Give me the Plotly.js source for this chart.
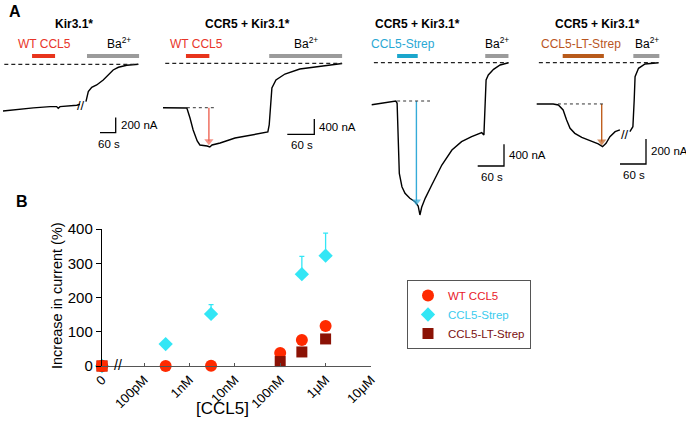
<!DOCTYPE html>
<html><head><meta charset="utf-8">
<script src="https://cdn.plot.ly/plotly-3.0.1.min.js"></script>
<style>html,body{margin:0;padding:0;background:#fff}#chart{width:686px;height:435px}</style>
</head><body><div id="chart"></div>
<script>
// ---------- Panel A: current traces (time in s, current in nA; 0 = Ba2+-blocked level) ----------
const kirTime      = [0, 65, 116, 180, 205, 211, 218, 282, 294, null, 317, 326, 339, 358, 383, 402, 421, 441, 473, 517];
const kirCurrent   = [-610, -583, -570, -553, -553, -574, -553, -535, -522, null, -488, -357, -300, -270, -205, -140, -74, -39, -13, 0];
const kirDrug      = [111, 199];
const kirBa        = [321, 520];

const wtTime       = [0, 51, 53, 60, 67, 76, 82, 98, 104, 109, 127, 160, 193, 233, 236, 240, 242, 251, 271, 304, 349, 398];
const wtCurrent    = [-1161, -1161, -1169, -1430, -1744, -2031, -2136, -2162, -2188, -2136, -2084, -1953, -1875, -1796, -1613, -959, -646, -437, -280, -149, -71, -5];
const wtDrug       = [51, 103];
const wtBa         = [236, 398];
const wtPeak       = {t: 102, from: -1161, to: -2040, dotted: [53, 116]};

const strepTime    = [0, 19, 55, 58, 61, 63, 69, 76, 87, 99, 106, 110, 114, 122, 137, 160, 183, 205, 228, 251, 256, 258, 261, 266, 278, 293, 312];
const strepCurrent = [-774, -748, -706, -748, -1425, -2039, -2286, -2407, -2500, -2562, -2641, -2807, -2665, -2500, -2254, -1886, -1609, -1456, -1364, -1290, -1333, -872, -319, -227, -122, -42, 0];
const strepDrug    = [58, 105];
const strepBa      = [259, 312];
const strepPeak    = {t: 102, from: -706, to: -2560, dotted: [58, 133]};

const ltTime       = [0, 38, 50, 61, 69, 77, 88, 104, 123, 142, 152, 160, 169, 181, 192, null, 215, 222, 225, 227, 235, 250, 281];
const ltCurrent    = [-330, -330, -338, -378, -458, -525, -565, -597, -624, -650, -672, -645, -592, -552, -538, null, -552, -512, -298, -112, -45, -10, 0];
const ltDrug       = [60, 155];
const ltBa         = [223, 283];
const ltPeak       = {t: 150, from: -330, to: -630, dotted: [49, 155]};

// ---------- Panel B: dose response ----------
const tickConcNM   = [0, 0.1, 1, 10, 100, 1000, 10000];
const tickLabels   = ['0', '100pM', '1nM', '10nM', '100nM', '1μM', '10μM'];
const wtConc       = [0, 0.3, 3, 100, 300, 1000];
const wtResp       = [0, 0, 1, 38, 76, 117];
const strepConc    = [0, 0.3, 3, 300, 1000];
const strepResp    = [0, 64, 152, 268, 322];
const strepErr     = [0, 0, 27, 52, 66];
const ltConc       = [0, 100, 300, 1000];
const ltResp       = [0, 13, 41, 79];
const ctrlConc     = [0];
const ctrlResp     = [0];

// ---------- layout helpers ----------
const W = 686, H = 435;
const px = x => x / W;
const py = y => 1 - y / H;
const FONT = 'Liberation Sans, Arial, sans-serif';
const ZERO_POS = -1.925;               // where "0" sits on the log-concentration axis
const xpos = c => c === 0 ? ZERO_POS : Math.log10(c);

const RED = '#ff2a00', CYAN = '#33e6f5', DARK = '#8b1205';
const GRAY = '#9b9b9b';

// panel calibration (pixel of t=0, px per s, pixel of I=0, px per nA, domain)
const panels = [
  {L: 0,   R: 160, px0: 3,     sx: 15.7/60, py0: 64.3, sy: 15.3/200, t: kirTime,   i: kirCurrent,   drug: kirDrug,   ba: kirBa,   drugColor: '#e8341c', peak: null,      sb: [115.7, 132.7], sbI: 200},
  {L: 160, R: 355, px0: 163,   sx: 27/60,   py0: 63.3, sy: 15.3/400, t: wtTime,    i: wtCurrent,    drug: wtDrug,    ba: wtBa,    drugColor: '#e8341c', peak: wtPeak,    arrow: '#ee6655', sb: [314.3, 134.3], sbI: 400},
  {L: 355, R: 520, px0: 371.7, sx: 26.3/60, py0: 62.7, sy: 21.7/400, t: strepTime, i: strepCurrent, drug: strepDrug, ba: strepBa, drugColor: '#1ba6cc', peak: strepPeak, arrow: '#35abd8', sb: [504, 166], sbI: 400},
  {L: 520, R: 686, px0: 536.7, sx: 26/60,   py0: 62.7, sy: 25/200,   t: ltTime,    i: ltCurrent,    drug: ltDrug,    ba: ltBa,    drugColor: '#b85a1a', peak: ltPeak,    arrow: '#c0601f', sb: [646, 164], sbI: 200}
];
const A_TOP = 0, A_BOT = 232;

const data = [];
const layout = {
  width: W, height: H, autosize: false,
  margin: {l: 0, r: 0, t: 0, b: 0, pad: 0},
  paper_bgcolor: '#fff', plot_bgcolor: 'rgba(0,0,0,0)',
  font: {family: FONT, color: '#000'},
  showlegend: true,
  shapes: [], annotations: []
};
const ann = (text, x, y, o = {}) => Object.assign({
  text, x: px(x), y: py(y), xref: 'paper', yref: 'paper',
  xanchor: 'center', yanchor: 'middle', showarrow: false,
  font: {family: FONT, size: 12, color: '#000'}
}, o);

panels.forEach((p, k) => {
  const n = k + 2, xa = 'x' + n, ya = 'y' + n;
  layout['xaxis' + n] = {domain: [px(p.L), px(p.R)], anchor: ya, visible: false, fixedrange: true,
    range: [(p.L - p.px0) / p.sx, (p.R - p.px0) / p.sx]};
  layout['yaxis' + n] = {domain: [py(A_BOT), py(A_TOP)], anchor: xa, visible: false, fixedrange: true,
    range: [(p.py0 - A_BOT) / p.sy, (p.py0 - A_TOP) / p.sy]};
  data.push({type: 'scatter', mode: 'lines', x: p.t, y: p.i, xaxis: xa, yaxis: ya,
    line: {color: '#000', width: 1.4}, connectgaps: false, showlegend: false, hoverinfo: 'skip'});
  const tEnd = p.t[p.t.length - 1];
  // baseline (Ba2+ level)
  layout.shapes.push({type: 'line', xref: xa, yref: ya, x0: p.t[0] + 5, x1: tEnd, y0: 0, y1: 0,
    line: {color: '#222', width: 1.2, dash: '4px,3px'}});
  // application bars
  layout.shapes.push({type: 'line', xref: xa, yref: 'paper', x0: p.drug[0], x1: p.drug[1], y0: py(56), y1: py(56),
    line: {color: p.drugColor, width: 4}});
  layout.shapes.push({type: 'line', xref: xa, yref: 'paper', x0: p.ba[0], x1: p.ba[1], y0: py(56), y1: py(56),
    line: {color: GRAY, width: 4}});
  // peak arrow + dotted pre-level
  if (p.peak) {
    layout.shapes.push({type: 'line', xref: xa, yref: ya, x0: p.peak.dotted[0], x1: p.peak.dotted[1],
      y0: p.peak.from, y1: p.peak.from, line: {color: '#333', width: 1, dash: 'dot'}});
    data.push({type: 'scatter', mode: 'lines+markers', xaxis: xa, yaxis: ya, showlegend: false, hoverinfo: 'skip',
      x: [p.peak.t, p.peak.t], y: [p.peak.from, p.peak.to], cliponaxis: false,
      line: {color: p.arrow, width: 1.4},
      marker: {symbol: ['line-ew', 'triangle-down'], size: [1, 8], color: p.arrow, line: {width: 0}}});
  }
  // scale bar (60 s, sbI nA)
  const tA = (p.sb[0] - p.px0) / p.sx, iA = (p.py0 - p.sb[1]) / p.sy;
  layout.shapes.push({type: 'path', xref: xa, yref: ya,
    path: `M ${tA - 60} ${iA} L ${tA} ${iA} L ${tA} ${iA + p.sbI}`, line: {color: '#000', width: 1.3}});
  const barTop = p.sb[1] - p.sbI * p.sy;
  layout.annotations.push(ann(p.sbI + ' nA', p.sb[0] + 3, (barTop + p.sb[1]) / 2, {xanchor: 'left', font: {family: FONT, size: 11.5}}));
  layout.annotations.push(ann('60 s', p.sb[0] - 60 * p.sx / 2 + 1, p.sb[1] + 11, {font: {family: FONT, size: 11.5}}));
});

// Panel A labels
const bold = {family: FONT, size: 12, color: '#000', weight: 'bold'};
layout.annotations.push(
  ann('<b>A</b>', 15, 11, {font: {family: FONT, size: 16}}),
  ann('<b>Kir3.1*</b>', 74, 24, {font: bold}),
  ann('<b>CCR5 + Kir3.1*</b>', 247, 24, {font: bold}),
  ann('<b>CCR5 + Kir3.1*</b>', 417, 24, {font: bold}),
  ann('<b>CCR5 + Kir3.1*</b>', 597, 24, {font: bold}),
  ann('WT CCL5', 44, 44, {font: {family: FONT, size: 12, color: '#e8352a'}}),
  ann('WT CCL5', 196, 44, {font: {family: FONT, size: 12, color: '#e8352a'}}),
  ann('CCL5-Strep', 403, 44, {font: {family: FONT, size: 12, color: '#2aa8d4'}}),
  ann('CCL5-LT-Strep', 581, 44, {font: {family: FONT, size: 12, color: '#b9561f'}}),
  ann('Ba<sup>2+</sup>', 119, 43),
  ann('Ba<sup>2+</sup>', 306, 43),
  ann('Ba<sup>2+</sup>', 497, 43),
  ann('Ba<sup>2+</sup>', 647, 43),
  ann('//', 81, 106, {font: {family: FONT, size: 13}}),
  ann('//', 625, 134, {font: {family: FONT, size: 13}})
);

// ---------- Panel B ----------
const sp = s => `<span style="color:${s[1]}">${s[0]}</span>`;
data.push(
  {type: 'scatter', mode: 'markers', name: sp(['CCL5-Strep', '#3ccbee']), legendrank: 2,
   x: strepConc.map(xpos), y: strepResp, cliponaxis: false,
   marker: {symbol: 'diamond', size: 11, color: CYAN},
   error_y: {type: 'data', symmetric: false, array: strepErr, arrayminus: strepErr.map(() => 0), color: CYAN, thickness: 1.3, width: 2.5}},
  {type: 'scatter', mode: 'markers', name: sp(['WT CCL5', '#e8202a']), legendrank: 1,
   x: wtConc.map(xpos), y: wtResp, cliponaxis: false,
   marker: {symbol: 'circle', size: 12, color: RED}},
  {type: 'scatter', mode: 'markers', name: sp(['CCL5-LT-Strep', '#7a1010']), legendrank: 3,
   x: ltConc.map(xpos), y: ltResp, cliponaxis: false,
   marker: {symbol: 'square', size: 11, color: DARK}},
  {type: 'scatter', mode: 'markers', showlegend: false,
   x: ctrlConc.map(xpos), y: ctrlResp, cliponaxis: false,
   marker: {symbol: 'square', size: 11, color: RED}}
);
layout.xaxis = {domain: [px(102), px(371)], anchor: 'y', range: [ZERO_POS, 4.0], fixedrange: true,
  showgrid: false, zeroline: false, showline: true, linecolor: '#555', linewidth: 1.2,
  ticks: 'inside', ticklen: 3, tickcolor: '#555',
  tickvals: tickConcNM.map(xpos), ticktext: tickLabels, tickangle: -45,
  tickfont: {family: FONT, size: 13, color: '#000'}};
layout.yaxis = {domain: [py(366), py(229)], anchor: 'x', range: [0, 400], fixedrange: true,
  showgrid: false, zeroline: false, showline: true, linecolor: '#000', linewidth: 1.2,
  ticks: 'outside', ticklen: 5, tickcolor: '#000', tickvals: [0, 100, 200, 300, 400],
  tickfont: {family: FONT, size: 15, color: '#000'}};
layout.legend = {x: px(407), y: py(280), xanchor: 'left', yanchor: 'top',
  bgcolor: '#fff', bordercolor: '#555', borderwidth: 1, itemwidth: 30,
  font: {family: FONT, size: 11.5}, traceorder: 'normal'};
layout.annotations.push(
  ann('<b>B</b>', 22, 202, {font: {family: FONT, size: 16}}),
  ann('Increase in current (%)', 57, 296, {textangle: -90, font: {family: FONT, size: 14.5}}),
  ann('[CCL5]', 222, 408, {font: {family: FONT, size: 17}}),
  ann('//', 118, 365, {font: {family: FONT, size: 14}})
);

Plotly.newPlot('chart', data, layout, {staticPlot: true, displayModeBar: false});
</script>
</body></html>
